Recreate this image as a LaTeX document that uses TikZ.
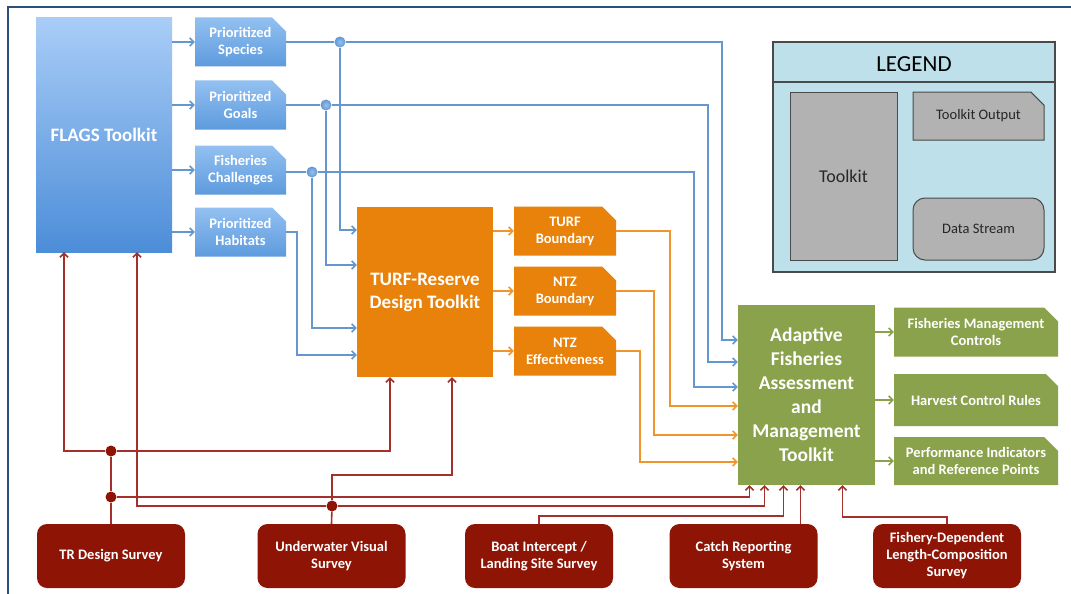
\documentclass[tikz,border=0pt]{standalone}
\usepackage{fontspec}
\setmainfont{Carlito}
\usetikzlibrary{arrows.meta,shapes.misc}
\definecolor{frame}{HTML}{2B5079}
\definecolor{flagtop}{HTML}{A9CDF7}
\definecolor{flagbot}{HTML}{4C8DD8}
\definecolor{outtop}{HTML}{93C0F1}
\definecolor{outbot}{HTML}{5D9BDD}
\definecolor{bline}{HTML}{6496CF}
\definecolor{turf}{HTML}{E8820A}
\definecolor{oline}{HTML}{F0952E}
\definecolor{afam}{HTML}{8AA24B}
\definecolor{srcred}{HTML}{8E1506}
\definecolor{rline}{HTML}{A3302A}
\definecolor{legfill}{HTML}{BEE0EA}
\definecolor{legedge}{HTML}{4A4A4A}
\definecolor{keygray}{HTML}{B2B2B2}

\begin{document}
\begin{tikzpicture}[x=1pt,y=-1pt,
  every node/.style={align=center,inner sep=0pt,text=white,font=\fontsize{14.5}{17}\selectfont\bfseries},
  toolbox/.style={rectangle,font=\fontsize{19}{23}\selectfont\bfseries},
  outbox/.style={chamfered rectangle,chamfered rectangle corners=north east,chamfered rectangle sep=7pt},
  srcbox/.style={rectangle,rounded corners=10pt,fill=srcred,minimum width=148pt,minimum height=64pt},
  keybox/.style={draw=legedge,fill=keygray,line width=1pt,text=black!85,font=\fontsize{14.5}{17}\selectfont},
  bflow/.style={-{Straight Barb[length=4pt,width=8pt]},line width=1.6pt,bline},
  oflow/.style={-{Straight Barb[length=4pt,width=8pt]},line width=1.6pt,oline},
  gflow/.style={-{Straight Barb[length=4pt,width=8pt]},line width=1.6pt,afam},
  rflow/.style={-{Straight Barb[length=4pt,width=8pt]},line width=1.6pt,rline},
  rpipe/.style={line width=1.6pt,rline},
  bdot/.style={circle,inner color=outtop,outer color=bline,minimum size=11pt},
  rdot/.style={circle,fill=srcred,minimum size=11pt}]
  \useasboundingbox (0,0) rectangle (1071,594);
  \fill[white] (0,0) rectangle (1071,594);
  \draw[frame,line width=2pt] (1071,7) -- (8,7) -- (8,594);

  % ===== FLAGS toolkit and its outputs =====
  \node[toolbox,top color=flagtop,bottom color=flagbot,minimum width=136pt,minimum height=234pt] (flags) at (104,135) {FLAGS Toolkit};
  \node[outbox,top color=outtop,bottom color=outbot,minimum width=91pt,minimum height=49pt] (species) at (240.5,42) {Prioritized\\Species};
  \node[outbox,top color=outtop,bottom color=outbot,minimum width=91pt,minimum height=49pt] (goals) at (240.5,105) {Prioritized\\Goals};
  \node[outbox,top color=outtop,bottom color=outbot,minimum width=91pt,minimum height=49pt] (challenges) at (240.5,170) {Fisheries\\Challenges};
  \node[outbox,top color=outtop,bottom color=outbot,minimum width=91pt,minimum height=49pt] (habitats) at (240.5,232) {Prioritized\\Habitats};
  \foreach \o in {species,goals,challenges,habitats}
    \draw[bflow] (flags.east |- \o.west) -- (\o.west);

  % ===== TURF-Reserve design toolkit =====
  \node[toolbox,fill=turf,minimum width=136pt,minimum height=170pt] (turf) at (425,292) {TURF-Reserve\\Design Toolkit};
  \node[outbox,fill=turf,minimum width=102pt,minimum height=49pt] (tb) at (565,231) {TURF\\Boundary};
  \node[outbox,fill=turf,minimum width=102pt,minimum height=49pt] (nb) at (565,291) {NTZ\\Boundary};
  \node[outbox,fill=turf,minimum width=102pt,minimum height=49pt] (ne) at (565,351) {NTZ\\Effectiveness};
  \foreach \o in {tb,nb,ne}
    \draw[oflow] (turf.east |- \o.west) -- (\o.west);

  % ===== adaptive fisheries toolkit =====
  \node[toolbox,fill=afam,minimum width=137pt,minimum height=180pt,font=\fontsize{19.5}{24}\selectfont\bfseries] (afam) at (806.5,395) {Adaptive\\Fisheries\\Assessment\\and\\Management\\Toolkit};
  \node[outbox,fill=afam,minimum width=164pt,minimum height=49pt] (fmc) at (976,332) {Fisheries Management\\Controls};
  \node[outbox,fill=afam,minimum width=164pt,minimum height=52pt] (hcr) at (976,400) {Harvest Control Rules};
  \node[outbox,fill=afam,minimum width=164pt,minimum height=48pt] (pirp) at (976,461) {Performance Indicators\\and Reference Points};
  \foreach \o in {fmc,hcr,pirp}
    \draw[gflow] (afam.east |- \o.west) -- (\o.west);

  % blue feeds (dots split to TURF toolkit)
  \node[bdot] (dsp) at (340,42) {};
  \node[bdot] (dgo) at (326,105) {};
  \node[bdot] (dch) at (312,172) {};
  \draw[bflow] (species.east) -- (dsp) -| (722,340) -- (afam.west |- 0,340);
  \draw[bflow] (goals.east) -- (dgo) -| (708,362) -- (afam.west |- 0,362);
  \draw[bflow] (challenges.east |- dch) -- (dch) -| (694,387) -- (afam.west |- 0,387);
  \draw[bflow] (dsp) |- (turf.west |- 0,230);
  \draw[bflow] (dgo) |- (turf.west |- 0,265);
  \draw[bflow] (dch) |- (turf.west |- 0,328);
  \draw[bflow] (habitats.east) -| (297,355) -- (turf.west |- 0,355);

  % orange feeds
  \draw[oflow] (tb.east) -| (670,406) -- (afam.west |- 0,406);
  \draw[oflow] (nb.east) -| (654,435) -- (afam.west |- 0,435);
  \draw[oflow] (ne.east) -| (640,462) -- (afam.west |- 0,462);

  % ===== data streams =====
  \node[srcbox] (trd) at (111,556) {TR Design Survey};
  \node[srcbox] (uvs) at (331.5,556) {Underwater Visual\\Survey};
  \node[srcbox] (boat) at (539,556) {Boat Intercept /\\Landing Site Survey};
  \node[srcbox] (catch) at (743.5,556) {Catch Reporting\\System};
  \node[srcbox] (fdlc) at (947,556) {Fishery-Dependent\\Length-Composition\\Survey};

  \node[rdot] (j1) at (111,451) {};
  \node[rdot] (j2) at (111,497) {};
  \node[rdot] (j3) at (332,506) {};
  \draw[rpipe] (trd.north) -- (j2) -- (j1);
  \draw[rflow] (j1) -| ([xshift=-40pt]flags.south);
  \draw[rflow] (j1) -| ([xshift=-35pt]turf.south);
  \draw[rflow] (j2) -| ([xshift=-57pt]afam.south);
  \draw[rpipe] (uvs.north) -- (j3);
  \draw[rflow] (j3) -| ([xshift=33pt]flags.south);
  \draw[rflow] (j3) -| ([xshift=-42pt]afam.south);
  \draw[rflow] (j3) -- ++(0,-31) -| ([xshift=27pt]turf.south);
  \draw[rflow] (boat.north) -- ++(0,-8) -| ([xshift=-23pt]afam.south);
  \draw[rflow] ([xshift=-6pt]afam.south |- catch.north) -- ([xshift=-6pt]afam.south);
  \draw[rflow] (fdlc.north) -- ++(0,-7) -| ([xshift=36pt]afam.south);

  % ===== legend =====
  \node[draw=legedge,fill=legfill,line width=1.2pt,minimum width=282pt,minimum height=230pt] (legend) at (914,157) {};
  \draw[legedge,line width=1.2pt] (legend.west |- 0,82) -- (legend.east |- 0,82);
  \node[text=black,font=\fontsize{23}{27}\selectfont] (legtitle) at (914,64) {LEGEND};
  \node[keybox,minimum width=107pt,minimum height=168pt,font=\fontsize{18}{22}\selectfont] (keytool) at (843.5,176) {Toolkit};
  \node[keybox,outbox,minimum width=131pt,minimum height=48pt] (keyout) at (978.5,116) {Toolkit Output};
  \node[keybox,rounded corners=12pt,minimum width=131pt,minimum height=62pt] (keydata) at (978.5,229) {Data Stream};
\end{tikzpicture}
\end{document}
